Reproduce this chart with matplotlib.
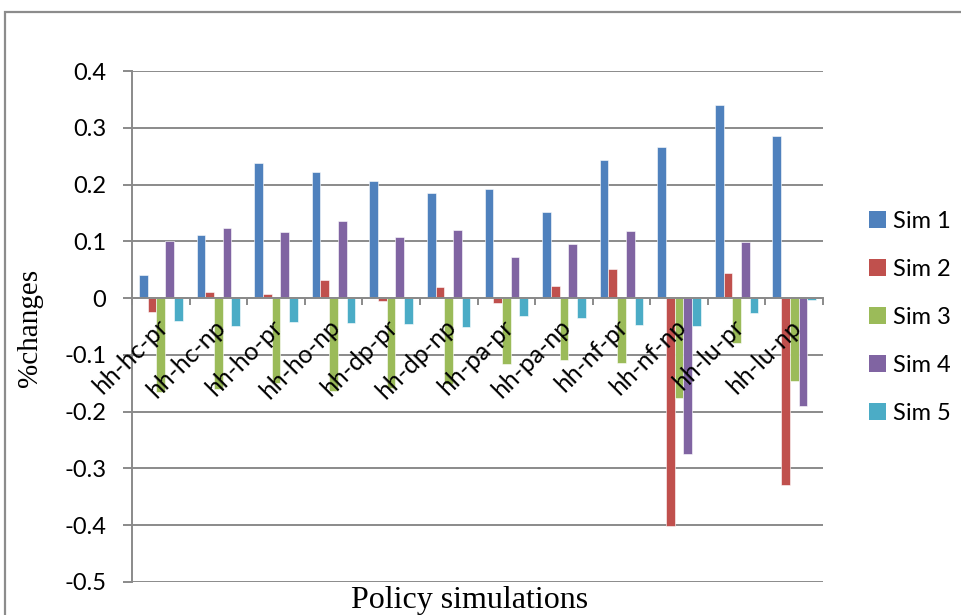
import numpy as np
import matplotlib
matplotlib.use("Agg")
import matplotlib.pyplot as plt
from matplotlib.patches import Patch, Rectangle
from matplotlib.transforms import ScaledTranslation

categories = ["hh-hc-pr", "hh-hc-np", "hh-ho-pr", "hh-ho-np", "hh-dp-pr", "hh-dp-np",
              "hh-pa-pr", "hh-pa-np", "hh-nf-pr", "hh-nf-np", "hh-lu-pr", "hh-lu-np"]
series_names = ["Sim 1", "Sim 2", "Sim 3", "Sim 4", "Sim 5"]
sim1 = [0.041, 0.112, 0.238, 0.222, 0.207, 0.186, 0.193, 0.152, 0.243, 0.266, 0.340, 0.286]
sim2 = [-0.025, 0.010, 0.008, 0.032, -0.005, 0.020, -0.008, 0.022, 0.051, -0.402, 0.045, -0.330]
sim3 = [-0.165, -0.160, -0.149, -0.163, -0.158, -0.151, -0.116, -0.109, -0.114, -0.176, -0.079, -0.146]
sim4 = [0.100, 0.123, 0.117, 0.136, 0.108, 0.120, 0.073, 0.096, 0.119, -0.275, 0.099, -0.190]
sim5 = [-0.040, -0.049, -0.042, -0.044, -0.046, -0.051, -0.032, -0.035, -0.047, -0.049, -0.026, -0.003]
yticks = [-0.5, -0.4, -0.3, -0.2, -0.1, 0.0, 0.1, 0.2, 0.3, 0.4]
ytick_labels = ["-0.5", "-0.4", "-0.3", "-0.2", "-0.1", "0", "0.1", "0.2", "0.3", "0.4"]
colors = ["#4F81BD", "#C0504D", "#9BBB59", "#8064A2", "#4BACC6"]

W, H = 961, 615
fig = plt.figure(figsize=(W / 100, H / 100), dpi=100)
fig.patch.set_facecolor("white")

# outer chart border
fig.add_artist(Rectangle((5 / W, -0.1), 1.2, 1 - 12 / H + 0.1, transform=fig.transFigure,
                         fill=False, edgecolor="#8c8c8c", lw=1.6))

left, right, top, bottom = 132, 823, 71, 582
ax = fig.add_axes([left / W, 1 - bottom / H, (right - left) / W, (bottom - top) / H])

data = [sim1, sim2, sim3, sim4, sim5]
x = np.arange(len(categories))
bw = 0.151
for i, (vals, c, name) in enumerate(zip(data, colors, series_names)):
    ax.bar(x + (i - 2) * bw, vals, width=bw, color=c, edgecolor="white", linewidth=0.4,
           label=name, zorder=2)

ax.set_xlim(-0.5, len(categories) - 0.5)
ax.set_ylim(-0.5, 0.4)
ax.set_yticks(yticks)
ax.set_yticklabels(ytick_labels, fontsize=17, family="Lato")
ax.yaxis.grid(True, color="#8a8a8a", lw=1.4)

for s in ["top", "right"]:
    ax.spines[s].set_visible(False)
ax.spines["left"].set_color("#8a8a8a")
ax.spines["left"].set_linewidth(1.4)
ax.spines["bottom"].set_position(("data", 0))
ax.spines["bottom"].set_color("#8a8a8a")
ax.spines["bottom"].set_linewidth(1.4)
ax.spines["bottom"].set_zorder(2.5)

ax.tick_params(axis="y", length=6.5, width=1.4, color="#8a8a8a", pad=12)
ax.set_xticks(x)
ax.set_xticks(np.arange(-0.5, len(categories), 1.0), minor=True)
ax.tick_params(axis="x", which="major", length=0, pad=18)
ax.tick_params(axis="x", which="minor", length=5, width=1.4, color="#8a8a8a", direction="out")
ax.set_xticklabels(categories, fontsize=18, family="Lato", rotation=45,
                   ha="right", va="center", rotation_mode="anchor")
off = ScaledTranslation(0.03, 0, fig.dpi_scale_trans)
for lbl in ax.get_xticklabels():
    lbl.set_transform(lbl.get_transform() + off)

ax.yaxis.set_zorder(0.5)
ax.xaxis.set_zorder(5)

fig.text(30 / W, 1 - 328 / H, "%changes", rotation=90, fontsize=21, family="Liberation Serif",
         ha="center", va="center")
fig.text(470 / W, 1 - 608 / H, "Policy simulations", fontsize=23, family="Liberation Serif",
         ha="center", va="baseline")

handles = [Patch(facecolor=c, edgecolor="none") for c in colors]
fig.legend(handles, series_names, loc="upper left", bbox_to_anchor=(869 / W, 1 - 211 / H),
           frameon=False, prop={"family": "Lato", "size": 17},
           handlelength=0.7, handleheight=0.7, handletextpad=0.3, labelspacing=1.14, borderpad=0,
           borderaxespad=0)

fig.savefig("out.png", dpi=100)
